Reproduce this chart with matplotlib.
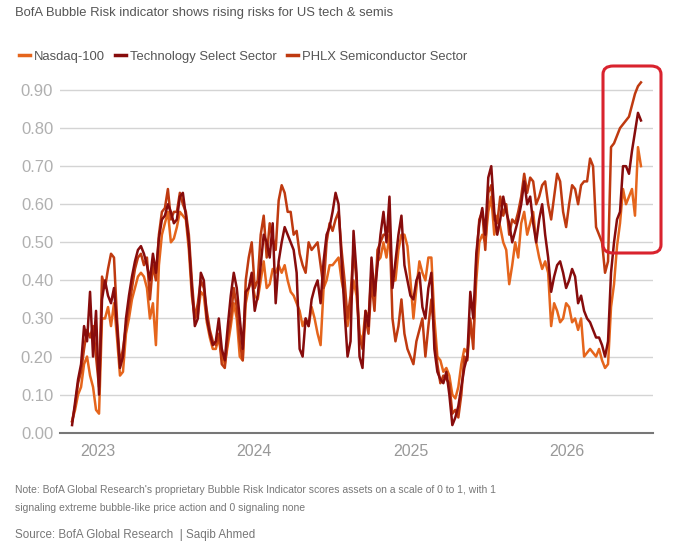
import pandas as pd
import matplotlib.pyplot as plt
import matplotlib.dates as mdates
from matplotlib.patches import FancyBboxPatch

plt.rcParams['font.family'] = ['Liberation Sans', 'DejaVu Sans']

# weekly readings of the BofA bubble risk indicator (0..1)
dates = pd.date_range('2022-11-01', periods=191, freq='7D')

nasdaq = [0.03, 0.06, 0.10, 0.12, 0.18, 0.20, 0.15, 0.12, 0.06, 0.05,
          0.30, 0.30, 0.33, 0.28, 0.34, 0.25, 0.15, 0.16, 0.26, 0.30,
          0.35, 0.38, 0.41, 0.42, 0.41, 0.38, 0.30, 0.34, 0.23, 0.44,
          0.52, 0.55, 0.58, 0.50, 0.51, 0.54, 0.58, 0.57, 0.56, 0.48,
          0.36, 0.30, 0.31, 0.37, 0.36, 0.29, 0.25, 0.22, 0.22, 0.25,
          0.20, 0.18, 0.23, 0.28, 0.34, 0.30, 0.20, 0.19, 0.34, 0.38,
          0.40, 0.36, 0.35, 0.40, 0.45, 0.38, 0.39, 0.43, 0.42, 0.44,
          0.42, 0.44, 0.40, 0.37, 0.36, 0.34, 0.32, 0.28, 0.30, 0.28,
          0.33, 0.30, 0.26, 0.23, 0.38, 0.40, 0.44, 0.44, 0.45, 0.46,
          0.40, 0.36, 0.28, 0.33, 0.40, 0.36, 0.26, 0.24, 0.32, 0.30,
          0.42, 0.38, 0.45, 0.46, 0.50, 0.46, 0.52, 0.40, 0.40, 0.48,
          0.52, 0.52, 0.49, 0.40, 0.30, 0.38, 0.45, 0.42, 0.40, 0.46,
          0.46, 0.30, 0.20, 0.19, 0.16, 0.17, 0.15, 0.10, 0.09, 0.12,
          0.18, 0.22, 0.21, 0.28, 0.25, 0.40, 0.50, 0.52, 0.50, 0.58,
          0.62, 0.52, 0.57, 0.54, 0.50, 0.48, 0.39, 0.44, 0.50, 0.46,
          0.55, 0.58, 0.52, 0.55, 0.58, 0.50, 0.46, 0.43, 0.45, 0.42,
          0.28, 0.34, 0.32, 0.29, 0.30, 0.34, 0.33, 0.29, 0.30, 0.27,
          0.30, 0.20, 0.21, 0.22, 0.21, 0.20, 0.22, 0.19, 0.17, 0.18,
          0.33, 0.39, 0.49, 0.55, 0.64, 0.60, 0.62, 0.64, 0.57, 0.75,
          0.70]

tech = [0.02, 0.08, 0.14, 0.18, 0.28, 0.24, 0.37, 0.20, 0.32, 0.10,
        0.35, 0.40, 0.36, 0.34, 0.38, 0.28, 0.17, 0.20, 0.30, 0.36,
        0.41, 0.45, 0.48, 0.49, 0.47, 0.44, 0.40, 0.47, 0.42, 0.51,
        0.56, 0.57, 0.60, 0.58, 0.55, 0.56, 0.62, 0.63, 0.57, 0.50,
        0.38, 0.28, 0.30, 0.42, 0.40, 0.30, 0.26, 0.23, 0.24, 0.30,
        0.22, 0.19, 0.28, 0.36, 0.42, 0.38, 0.30, 0.22, 0.37, 0.38,
        0.42, 0.32, 0.36, 0.44, 0.52, 0.50, 0.46, 0.55, 0.34, 0.45,
        0.50, 0.54, 0.52, 0.50, 0.48, 0.42, 0.22, 0.20, 0.30, 0.28,
        0.35, 0.38, 0.40, 0.34, 0.45, 0.52, 0.54, 0.58, 0.63, 0.60,
        0.45, 0.32, 0.20, 0.24, 0.53, 0.42, 0.20, 0.17, 0.32, 0.28,
        0.46, 0.36, 0.44, 0.52, 0.58, 0.50, 0.62, 0.38, 0.45, 0.52,
        0.57, 0.44, 0.40, 0.36, 0.35, 0.40, 0.42, 0.33, 0.30, 0.38,
        0.42, 0.22, 0.16, 0.14, 0.13, 0.16, 0.10, 0.02, 0.04, 0.07,
        0.12, 0.17, 0.20, 0.37, 0.30, 0.47, 0.55, 0.59, 0.52, 0.67,
        0.70, 0.58, 0.52, 0.56, 0.62, 0.58, 0.55, 0.50, 0.53, 0.56,
        0.60, 0.66, 0.60, 0.62, 0.55, 0.50, 0.56, 0.60, 0.52, 0.46,
        0.37, 0.41, 0.44, 0.45, 0.42, 0.38, 0.40, 0.43, 0.41, 0.34,
        0.36, 0.32, 0.30, 0.29, 0.27, 0.25, 0.25, 0.23, 0.20, 0.24,
        0.42, 0.50, 0.56, 0.58, 0.70, 0.70, 0.68, 0.74, 0.79, 0.84,
        0.82]

semis = [0.03, 0.07, 0.13, 0.16, 0.22, 0.27, 0.25, 0.28, 0.20, 0.12,
         0.41, 0.38, 0.43, 0.47, 0.46, 0.30, 0.18, 0.22, 0.28, 0.33,
         0.38, 0.43, 0.46, 0.47, 0.44, 0.46, 0.35, 0.44, 0.40, 0.52,
         0.58, 0.59, 0.64, 0.56, 0.58, 0.58, 0.63, 0.60, 0.58, 0.52,
         0.40, 0.30, 0.34, 0.40, 0.38, 0.32, 0.27, 0.24, 0.23, 0.26,
         0.18, 0.17, 0.25, 0.30, 0.38, 0.33, 0.24, 0.19, 0.40, 0.46,
         0.50, 0.38, 0.40, 0.52, 0.57, 0.46, 0.55, 0.51, 0.48, 0.61,
         0.65, 0.63, 0.58, 0.58, 0.52, 0.53, 0.47, 0.44, 0.42, 0.50,
         0.48, 0.49, 0.50, 0.44, 0.38, 0.50, 0.55, 0.53, 0.56, 0.58,
         0.48, 0.40, 0.30, 0.36, 0.48, 0.40, 0.25, 0.22, 0.30, 0.26,
         0.40, 0.32, 0.48, 0.50, 0.52, 0.52, 0.55, 0.30, 0.24, 0.28,
         0.35, 0.26, 0.22, 0.20, 0.18, 0.24, 0.27, 0.30, 0.20, 0.28,
         0.35, 0.26, 0.18, 0.13, 0.15, 0.14, 0.13, 0.05, 0.06, 0.04,
         0.10, 0.20, 0.19, 0.30, 0.22, 0.45, 0.56, 0.58, 0.48, 0.63,
         0.65, 0.56, 0.55, 0.62, 0.57, 0.60, 0.52, 0.56, 0.55, 0.58,
         0.62, 0.68, 0.63, 0.67, 0.66, 0.60, 0.62, 0.65, 0.66, 0.60,
         0.56, 0.62, 0.68, 0.66, 0.58, 0.54, 0.60, 0.65, 0.64, 0.60,
         0.65, 0.66, 0.66, 0.72, 0.70, 0.54, 0.52, 0.50, 0.42, 0.45,
         0.75, 0.76, 0.78, 0.80, 0.81, 0.82, 0.83, 0.86, 0.89, 0.91,
         0.92]

yticks = [0.0, 0.1, 0.2, 0.3, 0.4, 0.5, 0.6, 0.7, 0.8, 0.9]

c_ndx = '#e5651c'
c_tech = '#870c0c'
c_semi = '#bf3a10'

fig = plt.figure(figsize=(6.83, 5.51), dpi=100)
ax = fig.add_axes([0.088, 0.2147, 0.868, 0.6565])

ax.plot(dates, nasdaq, color=c_ndx, lw=1.8, label='Nasdaq-100')
ax.plot(dates, semis, color=c_semi, lw=1.8, label='PHLX Semiconductor Sector')
ax.plot(dates, tech, color=c_tech, lw=1.8, label='Technology Select Sector')

ax.set_ylim(0, 0.95)
ax.set_xlim(pd.Timestamp('2022-10-04'), pd.Timestamp('2026-07-21'))
ax.set_yticks(yticks)
ax.set_yticklabels([f'{v:.2f}' for v in yticks])
ax.xaxis.set_major_locator(mdates.YearLocator())
ax.xaxis.set_major_formatter(mdates.DateFormatter('%Y'))

ax.grid(axis='y', color='#d4d4d4', lw=1)
ax.set_axisbelow(True)
for s in ['top', 'right', 'left']:
    ax.spines[s].set_visible(False)
ax.spines['bottom'].set_color('#777777')
ax.spines['bottom'].set_linewidth(1.5)
ax.tick_params(axis='y', length=0, pad=5, labelsize=12, labelcolor='#b0b0b0')
ax.tick_params(axis='x', length=0, pad=8, labelsize=11.5, labelcolor='#999999')

# legend in Nasdaq / Tech / Semis order
h, l = ax.get_legend_handles_labels()
order = [0, 2, 1]
leg = fig.legend([h[i] for i in order], [l[i] for i in order], loc='center left',
                 bbox_to_anchor=(0.010, 0.897), ncol=3, frameon=False,
                 handlelength=0.85, handletextpad=0.3, columnspacing=0.8,
                 fontsize=9.4)
for line in leg.get_lines():
    line.set_linewidth(2.5)
for t in leg.get_texts():
    t.set_color('#555555')

fig.text(0.022, 0.976, 'BofA Bubble Risk indicator shows rising risks for US tech & semis',
         fontsize=9.4, color='#555555', va='center')
fig.text(0.022, 0.111, "Note: BofA Global Research's proprietary Bubble Risk Indicator scores assets on a scale of 0 to 1, with 1",
         fontsize=7.5, color='#777777', va='center')
fig.text(0.022, 0.078, 'signaling extreme bubble-like price action and 0 signaling none',
         fontsize=7.5, color='#777777', va='center')
fig.text(0.022, 0.029, 'Source: BofA Global Research  | Saqib Ahmed',
         fontsize=8.4, color='#777777', va='center')

# red highlight box around the recent surge
box = FancyBboxPatch((603 / 683, 1 - 253 / 551), 58 / 683, 187 / 551,
                     boxstyle='round,pad=0,rounding_size=0.015',
                     transform=fig.transFigure, fill=False,
                     edgecolor='#d9232e', lw=2.2)
fig.patches.append(box)

fig.savefig('out.png', dpi=100)
